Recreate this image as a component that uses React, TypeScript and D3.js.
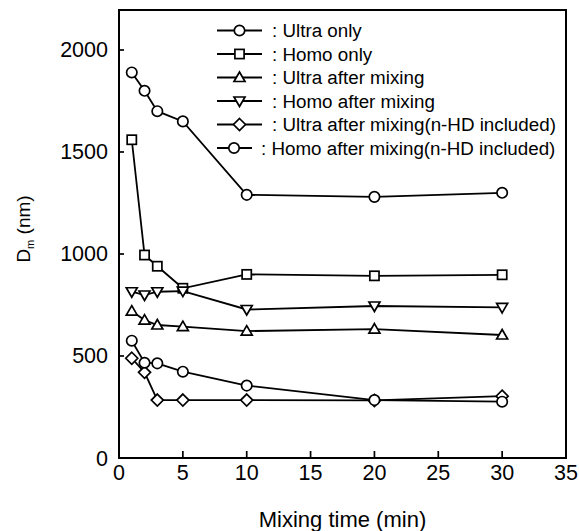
import React from "react";
import * as d3 from "d3";

const mixingTimes = [1, 2, 3, 5, 10, 20, 30];

const ultraOnly = [1890, 1800, 1700, 1650, 1290, 1280, 1300];
const homoOnly = [1560, 995, 940, 832, 900, 893, 898];
const ultraAfterMixing = [720, 676, 652, 644, 622, 632, 603];
const homoAfterMixing = [815, 799, 815, 818, 728, 745, 738];
const ultraAfterMixingHD = [489, 420, 284, 284, 284, 282, 303];
const homoAfterMixingHD = [575, 467, 464, 423, 355, 284, 276];

const xTicks = [0, 5, 10, 15, 20, 25, 30, 35];
const yTicks = [0, 500, 1000, 1500, 2000];

type Shape = "circle" | "square" | "up" | "down" | "diamond";

const seriesList: { label: string; values: number[]; shape: Shape }[] = [
  { label: ": Ultra only", values: ultraOnly, shape: "circle" },
  { label: ": Homo only", values: homoOnly, shape: "square" },
  { label: ": Ultra after mixing", values: ultraAfterMixing, shape: "up" },
  { label: ": Homo after mixing", values: homoAfterMixing, shape: "down" },
  { label: ": Ultra after mixing(n-HD included)", values: ultraAfterMixingHD, shape: "diamond" },
  { label: ": Homo after mixing(n-HD included)", values: homoAfterMixingHD, shape: "circle" },
];

const FONT = "'Liberation Sans', Arial, sans-serif";

function Marker({ shape, x, y }: { shape: Shape; x: number; y: number }) {
  const common = { fill: "#fff", stroke: "#000", strokeWidth: 1.7 };
  if (shape === "circle") return <circle cx={x} cy={y} r={5.2} {...common} />;
  if (shape === "square") return <rect x={x - 4.6} y={y - 4.6} width={9.2} height={9.2} {...common} />;
  if (shape === "up")
    return <path d={`M${x},${y - 5.5} L${x + 5.5},${y + 4} L${x - 5.5},${y + 4} Z`} {...common} />;
  if (shape === "down")
    return <path d={`M${x},${y + 5.5} L${x + 5.5},${y - 4} L${x - 5.5},${y - 4} Z`} {...common} />;
  return <path d={`M${x},${y - 6} L${x + 6},${y} L${x},${y + 6} L${x - 6},${y} Z`} {...common} />;
}

export default function App() {
  const width = 579;
  const height = 531;
  const left = 119;
  const right = 566;
  const top = 10;
  const bottom = 458;

  const x = d3.scaleLinear().domain([0, 35]).range([left, right]);
  const y = d3.scaleLinear().domain([0, 2196]).range([bottom, top]);

  const line = d3
    .line<[number, number]>()
    .x((d) => x(d[0]))
    .y((d) => y(d[1]));

  const legendRows = seriesList.map((s, i) => {
    const last = i === seriesList.length - 1;
    return {
      ...s,
      cy: 30.5 + i * 23.5,
      x1: 217,
      x2: last ? 252 : 262,
      mx: last ? 234 : 239.5,
      tx: last ? 261 : 272,
    };
  });

  return (
    <svg
      width={width}
      height={height}
      style={{ position: "absolute", left: 0, top: 0, display: "block" }}
      fontFamily={FONT}
    >
      <rect x={0} y={0} width={width} height={height} fill="#fff" />

      {/* frame */}
      <rect
        x={left}
        y={top}
        width={right - left}
        height={bottom - top}
        fill="none"
        stroke="#000"
        strokeWidth={2}
      />

      {/* x ticks */}
      {xTicks.map((t) => (
        <g key={`xt${t}`}>
          {t > 0 && t < 35 && (
            <line x1={x(t)} x2={x(t)} y1={bottom} y2={bottom - 7} stroke="#000" strokeWidth={1.7} />
          )}
          <text x={x(t)} y={bottom + 22} fontSize={21.5} textAnchor="middle" fill="#000">
            {t}
          </text>
        </g>
      ))}

      {/* y ticks */}
      {yTicks.map((t) => (
        <g key={`yt${t}`}>
          {t > 0 && (
            <line x1={left} x2={left + 5} y1={y(t)} y2={y(t)} stroke="#000" strokeWidth={1.7} />
          )}
          <text x={left - 11} y={y(t) + 7.5} fontSize={21.5} textAnchor="end" fill="#000">
            {t}
          </text>
        </g>
      ))}

      {/* axis titles */}
      <text x={(left + right) / 2} y={527} fontSize={22} textAnchor="middle" fill="#000">
        Mixing time (min)
      </text>
      <text
        transform="translate(30,229) rotate(-90)"
        fontSize={19}
        textAnchor="middle"
        fill="#000"
      >
        D<tspan fontSize={11} dy={4}>m</tspan>
        <tspan dy={-4}> (nm)</tspan>
      </text>

      {/* series */}
      {seriesList.map((s, si) => {
        const pts = mixingTimes.map((t, i) => [t, s.values[i]] as [number, number]);
        return (
          <g key={`s${si}`}>
            <path d={line(pts) ?? ""} fill="none" stroke="#000" strokeWidth={1.8} />
            {pts.map((p, i) => (
              <Marker key={i} shape={s.shape} x={x(p[0])} y={y(p[1])} />
            ))}
          </g>
        );
      })}

      {/* legend */}
      {legendRows.map((r, i) => (
        <g key={`lg${i}`}>
          <line x1={r.x1} x2={r.x2} y1={r.cy} y2={r.cy} stroke="#000" strokeWidth={1.8} />
          <Marker shape={r.shape} x={r.mx} y={r.cy} />
          <text x={r.tx} y={r.cy + 6.5} fontSize={18.8} fill="#000">
            {r.label}
          </text>
        </g>
      ))}
    </svg>
  );
}
